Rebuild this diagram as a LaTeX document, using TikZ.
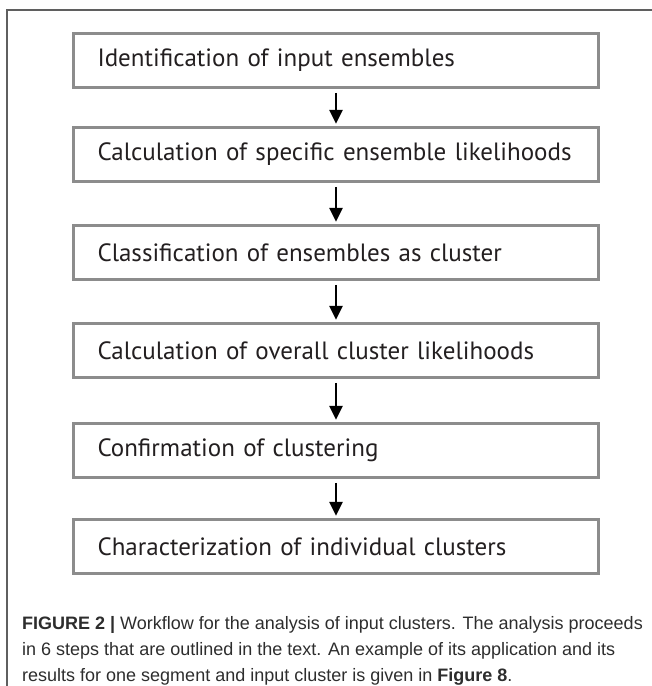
\documentclass[tikz,border=0pt]{standalone}
\usepackage{fontspec}
\setmainfont{PT Sans}
\newfontfamily\capfont{Liberation Sans}
\usetikzlibrary{arrows.meta}
\definecolor{boxgray}{RGB}{140,140,140}
\definecolor{framegray}{RGB}{95,95,95}
\definecolor{txt}{RGB}{35,31,32}
\definecolor{captxt}{RGB}{45,45,45}
\begin{document}
\begin{tikzpicture}[x=1pt,y=-1pt,
  stepbox/.style={draw=boxgray, line width=2.5pt, fill=white, inner xsep=24pt, inner ysep=0pt,
    text width=477pt, minimum height=54pt, align=left, anchor=north west,
    font=\fontsize{25}{30}\selectfont, text=txt},
  flow/.style={line width=2.8pt, -{Triangle[width=13pt,length=14pt]}, shorten >=2.5pt, shorten <=4pt},
  capline/.style={anchor=base west, inner sep=0pt, text=captxt, font=\capfont\fontsize{18}{27}\selectfont}]
\useasboundingbox (0,0) rectangle (652,686);
\coordinate (ftl) at (7,10);
\coordinate (ftr) at (652,10);
\coordinate (fbl) at (7,686);
\draw[framegray, line width=1.5pt] (ftr) -- (ftl) -- (fbl);
\node[stepbox] (b1) at (72.25,32.25) {Identification of input ensembles};
\node[stepbox] (b2) at (72.25,126.25) {Calculation of specific ensemble likelihoods};
\node[stepbox] (b3) at (72.25,224.25) {Classification of ensembles as cluster};
\node[stepbox] (b4) at (72.25,322.25) {Calculation of overall cluster likelihoods};
\node[stepbox] (b5) at (72.25,422.25) {Confirmation of clustering};
\node[stepbox] (b6) at (72.25,518.25) {Characterization of individual clusters};
\draw[flow] (b1) -- (b2);
\draw[flow] (b2) -- (b3);
\draw[flow] (b3) -- (b4);
\draw[flow] (b4) -- (b5);
\draw[flow] (b5) -- (b6);
\node[capline] (cap1) at (22,629) {\textbf{FIGURE 2 |} Workflow for the analysis of input clusters. The analysis proceeds};
\node[capline] (cap2) at (22,655) {in 6 steps that are outlined in the text. An example of its application and its};
\node[capline] (cap3) at (22,681) {results for one segment and input cluster is given in \textbf{Figure 8}.};
\end{tikzpicture}
\end{document}
